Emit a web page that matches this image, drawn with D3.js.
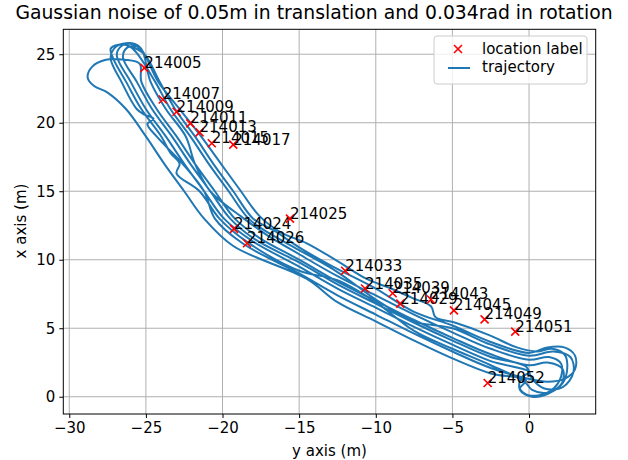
<!DOCTYPE html>
<html>
<head>
<meta charset="utf-8">
<script src="https://d3js.org/d3.v7.min.js"></script>
<style>
body { margin: 0; background: #fff; }
svg { display: block; font-family: 'DejaVu Sans', sans-serif; }
</style>
</head>
<body>
<svg width="628" height="460"></svg>
<script>
// location labels: [y axis, x axis, name]
var labelNames = ["214005","214007","214009","214011","214013","214015","214017","214024","214025","214026",
                  "214033","214035","214039","214029","214043","214045","214049","214051","214052"];
var labelY = [-25.1,-23.9,-23.0,-22.1,-21.5,-20.7,-19.3,-19.25,-15.6,-18.4,-12.0,-10.7,-8.9,-8.4,-6.4,-4.9,-2.9,-0.9,-2.7];
var labelX = [24.0,21.7,20.8,19.95,19.3,18.5,18.4,12.25,13.0,11.2,9.2,7.9,7.55,6.8,7.1,6.3,5.65,4.75,1.0];

// trajectory laps, [y, x] pairs, traced by eye
var lap1 = [[-26.0,25.6],[-25.1,25.0],[-24.1,23.0],[-23.1,21.0],[-21.8,19.0],[-20.6,17.0],[-19.3,15.0],[-18.0,13.0],
  [-16.6,12.1],[-15.0,10.9],[-12.8,9.5],[-10.0,7.9],[-7.5,6.2],[-5.0,5.2],[-2.5,4.0],[0.0,3.2],
  [1.2,3.6],[2.3,3.6],[3.0,3.0],[3.0,2.0],[2.3,1.3],[1.2,1.1],
  [0.0,1.3],[-2.5,2.1],[-5.0,3.3],[-7.5,4.6],[-10.0,6.0],[-12.5,7.4],[-15.0,9.0],[-18.7,11.2],[-20.5,13.0],
  [-21.2,15.0],[-22.6,17.0],[-24.3,19.0],[-24.9,19.9],[-24.5,20.3],[-25.1,20.6],[-25.6,21.0],[-26.6,23.0],[-27.3,24.7],
  [-27.0,25.5],[-26.3,25.8],[-25.6,25.6]];
var lap2 = [[-25.2,25.2],[-24.2,23.0],[-22.8,21.0],[-21.4,19.0],[-20.1,17.0],[-18.8,15.0],[-17.6,13.2],[-16.2,12.0],
  [-14.5,11.2],[-12.5,9.9],[-10.6,8.6],[-9.0,7.9],[-7.6,7.2],[-6.4,6.6],[-6.1,5.8],[-4.8,5.4],[-2.6,4.5],[-0.8,3.6],[0.5,3.3],
  [1.5,3.5],[2.3,3.1],[2.5,2.3],[2.2,1.0],[1.2,0.2],[0.2,0.0],[-0.6,0.5],[-0.5,1.4],[0.0,1.8],
  [-2.5,2.6],[-5.0,3.8],[-7.5,5.1],[-10.0,6.5],[-12.5,7.9],[-15.0,9.5],[-18.1,11.4],[-19.9,13.0],[-21.2,15.0],
  [-22.5,17.0],[-23.7,19.0],[-25.0,21.0],[-26.0,23.0],[-26.9,24.9],
  [-26.6,25.6],[-25.9,25.8],[-25.3,25.4]];
var lap3 = [[-24.7,23.0],[-23.7,21.0],[-22.4,19.0],[-21.8,17.0],[-20.8,15.0],[-18.6,13.0],[-17.1,11.8],[-15.0,10.4],
  [-12.5,8.8],[-10.0,7.4],[-7.5,6.0],[-5.0,4.7],[-2.5,3.5],[0.0,2.7],
  [1.3,2.9],[2.1,2.4],[2.0,1.2],[1.2,0.3],[0.0,0.1],[-0.6,0.6],[-0.2,1.2],
  [-2.5,1.7],[-5.0,2.8],[-7.5,4.1],[-10.0,5.5],[-12.5,6.9],[-14.5,8.6],[-19.3,11.0],[-21.2,13.0],[-22.5,15.0],
  [-23.8,17.0],[-25.0,19.0],[-26.3,21.0],[-27.5,22.2],[-28.4,22.7],[-28.8,23.3],[-28.5,24.1],[-27.6,24.6],
  [-26.4,24.6],[-25.4,24.3]];
var lap4 = [[-25.3,23.0],[-24.3,21.0],[-23.0,19.0],[-21.8,17.0],[-20.5,15.0],[-19.2,13.0],[-17.6,11.6],[-15.0,10.0],
  [-12.5,8.4],[-10.0,7.0],[-7.5,5.6],[-5.0,4.3],[-2.5,3.1],[0.0,2.3],
  [1.2,2.5],[2.2,2.0],[2.1,0.9],[1.2,0.3],[0.2,0.5],[-0.3,1.1],
  [-2.5,2.3],[-5.0,3.5],[-7.5,4.8],[-10.0,6.9],[-12.5,8.5],[-15.0,9.2],[-18.4,11.3],[-20.2,13.0],[-21.5,15.0],
  [-23.0,16.3],[-22.8,17.0],[-23.4,17.8],[-24.0,19.0],[-25.3,21.0],[-26.3,23.0],[-27.1,24.6],
  [-27.3,25.4],[-26.8,25.7],[-26.1,25.6],[-25.6,25.1]];
var lap5 = [[-24.4,23.0],[-23.4,21.0],[-22.1,19.0],[-20.9,17.0],[-19.6,15.0],[-18.3,13.0],[-16.9,11.9],[-15.0,10.7],
  [-12.5,9.1],[-10.0,7.1],[-7.5,5.5],[-5.0,5.0],[-2.5,3.8],[0.0,3.0],
  [1.6,3.3],[2.7,2.9],[2.9,1.8],[2.2,0.7],[1.0,0.6],[0.2,1.3],[-0.2,2.2],
  [-2.5,2.9],[-5.0,4.1],[-7.5,5.4],[-10.0,6.8],[-12.5,8.2],[-15.0,9.8],[-17.9,11.5],[-19.5,13.0],[-20.8,15.0],
  [-22.1,17.0],[-23.3,19.0],[-24.6,21.0],[-25.6,23.0],[-26.5,24.8],[-26.2,25.5],[-25.5,25.6]];

var xTicks = [-30,-25,-20,-15,-10,-5,0];
var yTicks = [0,5,10,15,20,25];

var svg = d3.select("svg");

var xScale = d3.scaleLinear().domain([-30.39, 4.35]).range([63.3, 595.7]);
var yScale = d3.scaleLinear().domain([-1.26, 26.82]).range([414, 29.3]);

// grid
svg.append("g").selectAll("line").data(xTicks).enter().append("line")
  .attr("x1", d => xScale(d)).attr("x2", d => xScale(d))
  .attr("y1", 29.3).attr("y2", 414)
  .attr("stroke", "#b0b0b0").attr("stroke-width", 1);
svg.append("g").selectAll("line").data(yTicks).enter().append("line")
  .attr("y1", d => yScale(d)).attr("y2", d => yScale(d))
  .attr("x1", 63.3).attr("x2", 595.7)
  .attr("stroke", "#b0b0b0").attr("stroke-width", 1);

// trajectory
var traj = lap1.concat(lap2, lap3, lap4, lap5);
var line = d3.line()
  .x(d => xScale(d[0]))
  .y(d => yScale(d[1]))
  .curve(d3.curveCatmullRom.alpha(0.5));

svg.append("path")
  .datum(traj)
  .attr("d", line)
  .attr("fill", "none")
  .attr("stroke", "#1f77b4")
  .attr("stroke-width", 2)
  .attr("stroke-linejoin", "round");

// red x markers
var marks = svg.append("g");
for (var i = 0; i < labelNames.length; i++) {
  var px = xScale(labelY[i]), py = yScale(labelX[i]);
  marks.append("path")
    .attr("d", "M" + (px-4) + "," + (py-4) + "L" + (px+4) + "," + (py+4) + "M" + (px-4) + "," + (py+4) + "L" + (px+4) + "," + (py-4))
    .attr("stroke", "#ff0000").attr("stroke-width", 1.6);
  marks.append("text")
    .attr("x", px).attr("y", py)
    .attr("font-size", "15px").attr("fill", "#000")
    .text(labelNames[i]);
}

// axes
var xAxis = d3.axisBottom(xScale).tickValues(xTicks).tickSize(4).tickPadding(4)
  .tickFormat(d => d < 0 ? "\u2212" + Math.abs(d) : d);
var yAxis = d3.axisLeft(yScale).tickValues(yTicks).tickSize(4).tickPadding(4);

svg.append("g").attr("transform", "translate(0,414)").call(xAxis)
  .call(g => g.select(".domain").remove())
  .selectAll("text").attr("font-size", "15px").attr("font-family", "DejaVu Sans").attr("fill", "#000");
svg.append("g").attr("transform", "translate(63.3,0)").call(yAxis)
  .call(g => g.select(".domain").remove())
  .selectAll("text").attr("font-size", "15px").attr("font-family", "DejaVu Sans").attr("fill", "#000");

// frame
svg.append("rect")
  .attr("x", 63.3).attr("y", 29.3).attr("width", 595.7 - 63.3).attr("height", 414 - 29.3)
  .attr("fill", "none").attr("stroke", "#000").attr("stroke-width", 1);

// titles
svg.append("text")
  .attr("x", 314).attr("y", 19)
  .attr("text-anchor", "middle").attr("font-size", "18.8px")
  .text("Gaussian noise of 0.05m in translation and 0.034rad in rotation");
svg.append("text")
  .attr("x", 329.5).attr("y", 456)
  .attr("text-anchor", "middle").attr("font-size", "15px")
  .text("y axis (m)");
svg.append("text")
  .attr("transform", "translate(26,221) rotate(-90)")
  .attr("text-anchor", "middle").attr("font-size", "15px")
  .text("x axis (m)");

// legend
var legend = svg.append("g");
legend.append("rect")
  .attr("x", 434).attr("y", 36).attr("width", 153).attr("height", 48).attr("rx", 3)
  .attr("fill", "#fff").attr("fill-opacity", 0.8).attr("stroke", "#cccccc");
legend.append("path")
  .attr("d", "M454,45L462,53M454,53L462,45")
  .attr("stroke", "#ff0000").attr("stroke-width", 1.6);
legend.append("line")
  .attr("x1", 448).attr("x2", 470).attr("y1", 68).attr("y2", 68)
  .attr("stroke", "#1f77b4").attr("stroke-width", 2);
legend.append("text").attr("x", 482).attr("y", 54).attr("font-size", "15px").text("location label");
legend.append("text").attr("x", 482).attr("y", 72).attr("font-size", "15px").text("trajectory");
</script>
</body>
</html>
